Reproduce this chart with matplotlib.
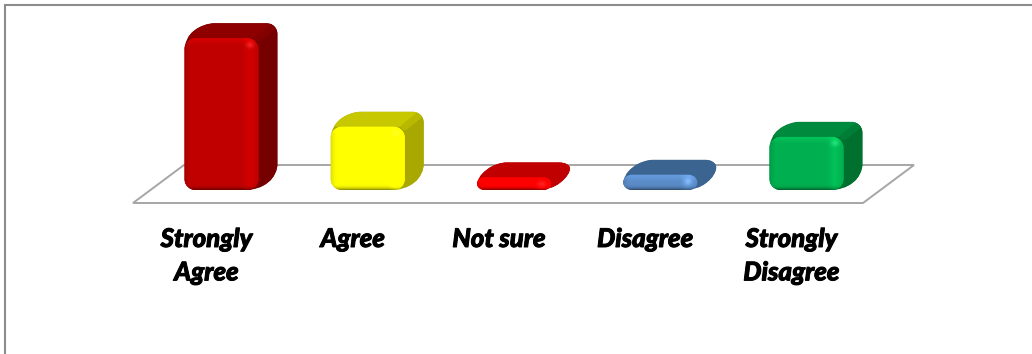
import numpy as np
import matplotlib
matplotlib.use("Agg")
import matplotlib.pyplot as plt
import matplotlib.patheffects as pe
from matplotlib.path import Path
from matplotlib.patches import PathPatch, Polygon
from matplotlib.transforms import IdentityTransform

categories = ["Strongly\nAgree", "Agree", "Not sure", "Disagree", "Strongly\nDisagree"]
values = [60, 25, 5, 6, 21]
front_colors = ["#C00000", "#FFFF00", "#FF0000", "#5B8CC8", "#00B050"]
top_colors = ["#8E0000", "#C8C800", "#C00000", "#3C6491", "#008A3E"]
side_colors = ["#760000", "#A8A800", "#C00000", "#3C6491", "#00702F"]

W, H = 1032, 354
PX_PER_CAT = 146.25
PX_PER_VAL = 2.53
X0, Y0 = 221.5, 190      # pixel position of the first category on the baseline
BAR_W = 74
DEPTH_X, DEPTH_Y = 19, 15
GRID = "#A6A6A6"

plt.rcParams["font.family"] = ["Lato", "DejaVu Sans"]

fig = plt.figure(figsize=(W / 100, H / 100), dpi=100)
ax = fig.add_axes([0, 0, 1, 1])
ax.set_xlim(-X0 / PX_PER_CAT, (W - X0) / PX_PER_CAT)
ax.set_ylim((Y0 - H) / PX_PER_VAL, Y0 / PX_PER_VAL)
ax.axis("off")


def to_px(cat, val):
    return ax.transData.transform((cat, val))


def rounded_path(pts, r):
    # closed polygon with circular-looking corners, points in display pixels
    pts = [np.array(p, dtype=float) for p in pts]
    n = len(pts)
    verts, codes = [], []
    for i in range(n):
        p, a, b = pts[i], pts[i - 1], pts[(i + 1) % n]
        ra = min(r, np.linalg.norm(a - p) / 2)
        rb = min(r, np.linalg.norm(b - p) / 2)
        start = p + (a - p) / np.linalg.norm(a - p) * ra
        end = p + (b - p) / np.linalg.norm(b - p) * rb
        verts.append(start)
        codes.append(Path.MOVETO if i == 0 else Path.LINETO)
        verts += [start + (p - start) * 0.55, end + (p - end) * 0.55, end]
        codes += [Path.CURVE4, Path.CURVE4, Path.CURVE4]
    verts.append(verts[0])
    codes.append(Path.CLOSEPOLY)
    return Path(verts, codes)


def add_shape(path, color, z, clip=None):
    patch = PathPatch(path, facecolor=color, edgecolor="none", transform=IdentityTransform(), zorder=z)
    ax.add_patch(patch)
    if clip is not None:
        patch.set_clip_path(clip)
    else:
        patch.set_clip_on(False)
    return patch


def front_shading(w, h, color):
    # bevelled face: dark lower rim, bright upper rim and right strip
    base = np.array(matplotlib.colors.to_rgb(color))
    bevel = min(7.0, h / 2)
    xs = np.arange(w) + 0.5
    ys = np.arange(h) + 0.5   # measured down from the top edge
    xx, yy = np.meshgrid(xs, ys)
    top = np.clip(1 - yy / bevel, 0, 1)
    bottom = np.clip(1 - (h - yy) / bevel, 0, 1)
    left = np.clip(1 - xx / bevel, 0, 1)
    right = np.clip(1 - np.abs(w - 9 - xx) / 8, 0, 1)
    gain = 1 + 0.14 * top - 0.5 * bottom ** 3 - 0.12 * left ** 2 + 0.1 * right
    img = np.clip(base[None, None, :] * gain[:, :, None], 0, 1)
    # small specular spot near the upper right corner
    spot = np.exp(-(((xx - (w - 9)) / 4) ** 2 + ((yy - min(7, h * 0.55)) / 3) ** 2))
    img = img + (0.13 * spot)[:, :, None]
    return np.clip(img, 0, 1)


# floor plane under the bars
fl = to_px(0, 0) + np.array([-88.5, -13])
fr = fl + np.array([730, 0])
floor = [fl, fr, fr + np.array([51, 38]), fl + np.array([51, 38])]
ax.add_patch(Polygon(floor, closed=True, fill=False, edgecolor=GRID, linewidth=1.4,
                     transform=IdentityTransform(), zorder=1, clip_on=False, joinstyle="miter"))

for i, v in enumerate(values):
    cx, by = to_px(i, 0)
    _, ty = to_px(i, v)
    x0, x1 = cx - BAR_W / 2, cx + BAR_W / 2
    d = np.array([DEPTH_X, DEPTH_Y])
    fb_l, ft_l = np.array([x0, by]), np.array([x0, ty])
    fb_r, ft_r = np.array([x1, by]), np.array([x1, ty])
    z = 3 + i

    r = 11
    sil = rounded_path([fb_l, ft_l, ft_l + d, ft_r + d, fb_r + d, fb_r], r)
    clip = add_shape(sil, side_colors[i], z)
    add_shape(Path([ft_l, ft_l + d, ft_r + d, ft_r, ft_l]), top_colors[i], z + 0.1, clip)
    add_shape(Path([ft_r, ft_r + d, fb_r + d, fb_r, ft_r]), side_colors[i], z + 0.1, clip)
    # soft ridge where the top meets the side
    mid = tuple((np.array(matplotlib.colors.to_rgb(top_colors[i])) + np.array(matplotlib.colors.to_rgb(side_colors[i]))) / 2)
    ridge = ax.plot([ft_r[0], ft_r[0] + d[0]], [ft_r[1], ft_r[1] + d[1]], color=mid, lw=5,
                    transform=IdentityTransform(), zorder=z + 0.2, solid_capstyle="round")[0]
    ridge.set_clip_path(clip)

    # flat bars end in a pill rather than a squashed corner
    front = rounded_path([fb_l, ft_l, ft_r, fb_r], min(r, (ty - by) / 2 + 1))
    add_shape(front, front_colors[i], z + 0.3)
    w_px, h_px = int(round(x1 - x0)), int(round(ty - by))
    data_l, data_b = ax.transData.inverted().transform((x0, by))
    data_r, data_t = ax.transData.inverted().transform((x1, ty))
    im = ax.imshow(front_shading(w_px, h_px, front_colors[i]), extent=(data_l, data_r, data_b, data_t),
                   origin="upper", aspect="auto", interpolation="bilinear", zorder=z + 0.4)
    im.set_clip_path(PathPatch(front, transform=IdentityTransform()))

    ax.annotate(categories[i], xy=(i, 0), xytext=(-15, -37), textcoords="offset pixels",
                ha="center", va="top", fontsize=18.5, fontweight=900, fontstyle="italic",
                color="black", linespacing=1.47, multialignment="center",
                path_effects=[pe.withStroke(linewidth=0.7, foreground="black")])

ax.set_xlim(-X0 / PX_PER_CAT, (W - X0) / PX_PER_CAT)
ax.set_ylim((Y0 - H) / PX_PER_VAL, Y0 / PX_PER_VAL)

# outer chart frame, only the top and left edges are inside the canvas
frame = "#8C8C8C"
fig.add_artist(plt.Line2D([5 / W, 5 / W, 1], [0, 1 - 5 / H, 1 - 5 / H],
                          color=frame, lw=1.5, solid_joinstyle="miter"))

fig.savefig("out.png", dpi=100)
